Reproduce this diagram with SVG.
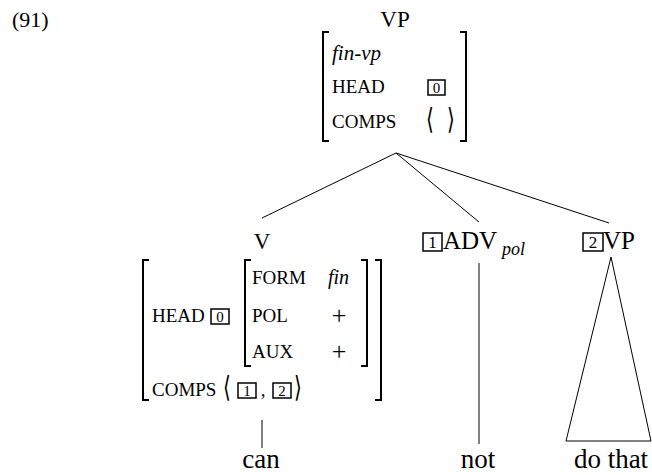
<svg xmlns="http://www.w3.org/2000/svg" width="652" height="475" viewBox="0 0 652 475">
<style>
  text { font-family: "Liberation Serif", "Times New Roman", serif; fill: #000; }
  .lbl { font-size: 23px; }
  .leaf { font-size: 27px; text-anchor: middle; }
  .feat { font-size: 19px; }
  .it1 { font-family: "Liberation Serif", serif; font-style: italic; font-size: 21px; }
  .it2 { font-family: "Liberation Serif", serif; font-style: italic; font-size: 20px; }
  .ang { font-family: "DejaVu Sans", sans-serif; font-size: 20px; text-anchor: middle; }
  .plus { font-size: 26px; text-anchor: middle; }
  .num { font-size: 15px; text-anchor: middle; }
  .brk { fill: none; stroke: #000; stroke-width: 2; }
  .box { fill: none; stroke: #000; stroke-width: 1.5; }
  .edge { fill: none; stroke: #000; stroke-width: 1; }
</style>
<text x="12" y="27" style="font-size:22px">(91)</text>

<g id="node-vp-top">
  <text class="lbl" x="395" y="27" text-anchor="middle">VP</text>
  <path class="brk" d="M329,32 H323 V141 H329 M460,32 H466 V141 H460"/>
  <text class="it1" x="332" y="60">fin-vp</text>
  <text class="feat" x="332" y="93">HEAD</text>
  <rect class="box" x="428" y="80" width="17" height="15"/>
  <text class="num" x="436.5" y="93">0</text>
  <text class="feat" x="332" y="128">COMPS</text>
  <text class="ang" transform="translate(430,129) scale(1,1.45)">⟨</text>
  <text class="ang" transform="translate(451,129) scale(1,1.45)">⟩</text>
</g>

<g id="node-v">
  <text class="lbl" x="262" y="249" text-anchor="middle">V</text>
  <path class="brk" d="M149,260 H143 V400 H149 M375,260 H381 V400 H375"/>
  <path class="brk" d="M251,260 H245 V366 H251 M361,260 H367 V366 H361"/>
  <text class="feat" x="252" y="284">FORM</text>
  <text class="it2" x="328" y="284">fin</text>
  <text class="feat" x="152" y="322">HEAD</text>
  <rect class="box" x="211" y="309" width="18" height="15"/>
  <text class="num" x="220" y="322">0</text>
  <text class="feat" x="252" y="322">POL</text>
  <text class="plus" x="339" y="324">+</text>
  <text class="feat" x="252" y="358">AUX</text>
  <text class="plus" x="339" y="360">+</text>
  <text class="feat" x="152" y="396">COMPS</text>
  <text class="ang" transform="translate(227,397) scale(1,1.45)">⟨</text>
  <rect class="box" x="238" y="383" width="18" height="15"/>
  <text class="num" x="247" y="396">1</text>
  <text class="feat" x="263" y="396" text-anchor="middle">,</text>
  <rect class="box" x="273" y="383" width="18" height="15"/>
  <text class="num" x="282" y="396">2</text>
  <text class="ang" transform="translate(298,397) scale(1,1.45)">⟩</text>
</g>

<g id="node-adv">
  <rect class="box" x="423" y="233" width="19" height="18"/>
  <text class="num" x="432.5" y="248" style="font-size:17px">1</text>
  <text class="lbl" x="443" y="249" style="font-size:25px">ADV</text>
  <text class="it2" x="502" y="255" style="font-size:18px">pol</text>
</g>

<g id="node-vp2">
  <rect class="box" x="583" y="233" width="20" height="18"/>
  <text class="num" x="593" y="248" style="font-size:17px">2</text>
  <text class="lbl" x="603" y="249" style="font-size:25px">VP</text>
</g>

<g id="leaf-can"><text class="leaf" x="261" y="468">can</text></g>
<g id="leaf-not"><text class="leaf" x="478" y="468">not</text></g>
<g id="leaf-dothat"><text class="leaf" x="611" y="468">do that</text></g>

<g id="connectors">
  <line class="edge" x1="396" y1="153" x2="262" y2="218"/>
  <line class="edge" x1="396" y1="153" x2="479" y2="222"/>
  <line class="edge" x1="396" y1="153" x2="609" y2="223"/>
  <line class="edge" x1="262" y1="420" x2="262" y2="448"/>
  <line class="edge" x1="479" y1="263" x2="479" y2="444"/>
  <polygon class="edge" points="611,257 566,441 651,441"/>
</g>
</svg>
